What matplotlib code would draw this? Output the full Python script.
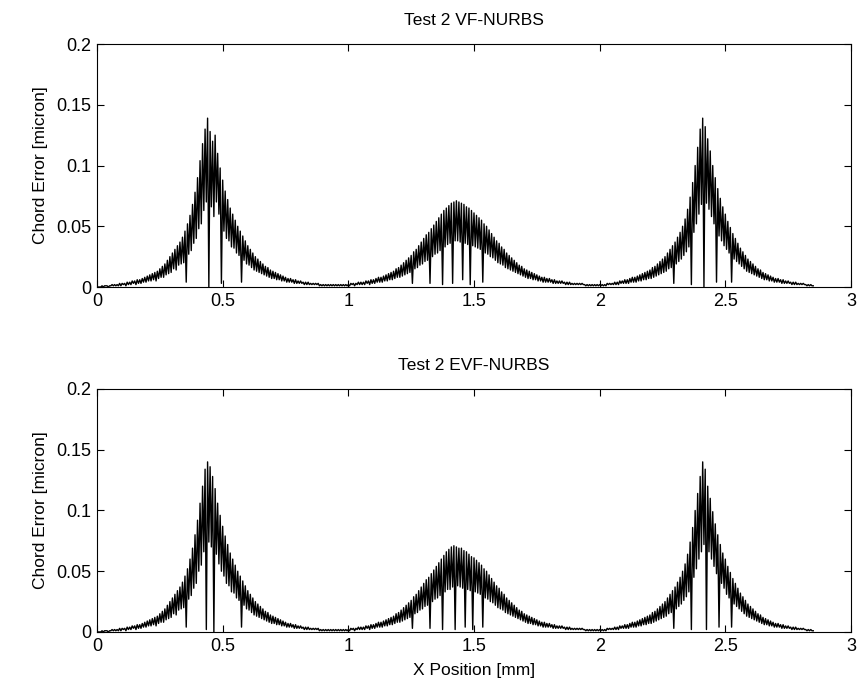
import numpy as np
import matplotlib
matplotlib.use("Agg")
import matplotlib.pyplot as plt

plt.rcParams['font.family'] = ['Liberation Sans', 'DejaVu Sans']

# chord error, micron
# crests every 0.01 mm from x = 0, troughs halfway between crests
vf_peaks = [
    0.000, 0.000, 0.001, 0.001, 0.001, 0.001, 0.002, 0.002, 0.002, 0.003,
    0.003, 0.003, 0.004, 0.004, 0.005, 0.005, 0.006, 0.006, 0.007, 0.008,
    0.009, 0.010, 0.011, 0.012, 0.013, 0.015, 0.017, 0.019, 0.022, 0.025,
    0.028, 0.031, 0.034, 0.037, 0.041, 0.046, 0.052, 0.059, 0.068, 0.078,
    0.090, 0.104, 0.118, 0.130, 0.139, 0.128, 0.120, 0.125, 0.110, 0.098,
    0.088, 0.079, 0.072, 0.065, 0.060, 0.055, 0.050, 0.046, 0.042, 0.038,
    0.034, 0.031, 0.028, 0.025, 0.023, 0.021, 0.019, 0.017, 0.016, 0.014,
    0.013, 0.012, 0.011, 0.010, 0.009, 0.008, 0.007, 0.007, 0.006, 0.006,
    0.005, 0.005, 0.004, 0.004, 0.004, 0.003, 0.003, 0.003, 0.003, 0.002,
    0.002, 0.002, 0.002, 0.002, 0.002, 0.002, 0.002, 0.002, 0.002, 0.002,
    0.002, 0.003, 0.003, 0.003, 0.004, 0.004, 0.004, 0.005, 0.005, 0.006,
    0.006, 0.007, 0.008, 0.008, 0.009, 0.010, 0.011, 0.012, 0.013, 0.015,
    0.016, 0.018, 0.020, 0.022, 0.024, 0.026, 0.029, 0.031, 0.034, 0.037,
    0.040, 0.043, 0.045, 0.048, 0.051, 0.054, 0.057, 0.060, 0.063, 0.065,
    0.067, 0.069, 0.070, 0.071, 0.070, 0.069, 0.068, 0.066, 0.065, 0.063,
    0.061, 0.059, 0.057, 0.055, 0.052, 0.050, 0.047, 0.044, 0.041, 0.038,
    0.036, 0.033, 0.031, 0.028, 0.026, 0.024, 0.022, 0.020, 0.018, 0.017,
    0.015, 0.014, 0.013, 0.012, 0.011, 0.010, 0.009, 0.008, 0.008, 0.007,
    0.007, 0.006, 0.006, 0.005, 0.005, 0.005, 0.004, 0.004, 0.004, 0.003,
    0.003, 0.003, 0.003, 0.003, 0.002, 0.002, 0.002, 0.002, 0.002, 0.002,
    0.002, 0.002, 0.002, 0.003, 0.003, 0.003, 0.004, 0.004, 0.005, 0.005,
    0.006, 0.006, 0.007, 0.008, 0.008, 0.009, 0.010, 0.011, 0.012, 0.013,
    0.014, 0.016, 0.017, 0.019, 0.021, 0.023, 0.025, 0.028, 0.031, 0.034,
    0.037, 0.041, 0.045, 0.050, 0.056, 0.064, 0.074, 0.086, 0.100, 0.115,
    0.130, 0.139, 0.132, 0.122, 0.112, 0.100, 0.090, 0.081, 0.073, 0.066,
    0.060, 0.054, 0.049, 0.044, 0.040, 0.036, 0.032, 0.029, 0.026, 0.023,
    0.021, 0.019, 0.017, 0.015, 0.014, 0.012, 0.011, 0.010, 0.009, 0.008,
    0.007, 0.007, 0.006, 0.006, 0.005, 0.005, 0.004, 0.004, 0.004, 0.003,
    0.003, 0.003, 0.002, 0.002, 0.002, 0.001,
]
vf_troughs = [
    0.000, 0.000, 0.000, 0.001, 0.000, 0.001, 0.001, 0.001, 0.001, 0.001,
    0.002, 0.001, 0.002, 0.002, 0.003, 0.002, 0.003, 0.003, 0.004, 0.004,
    0.005, 0.005, 0.006, 0.005, 0.007, 0.008, 0.008, 0.010, 0.011, 0.012,
    0.015, 0.014, 0.018, 0.019, 0.020, 0.004, 0.027, 0.030, 0.036, 0.040,
    0.048, 0.052, 0.063, 0.070, 0.000, 0.066, 0.058, 0.070, 0.060, 0.003,
    0.046, 0.040, 0.038, 0.033, 0.032, 0.028, 0.026, 0.004, 0.022, 0.019,
    0.018, 0.016, 0.014, 0.013, 0.012, 0.011, 0.010, 0.009, 0.008, 0.007,
    0.007, 0.006, 0.006, 0.005, 0.005, 0.004, 0.004, 0.004, 0.003, 0.003,
    0.003, 0.003, 0.002, 0.002, 0.002, 0.002, 0.002, 0.002, 0.001, 0.001,
    0.001, 0.001, 0.001, 0.001, 0.001, 0.001, 0.001, 0.001, 0.001, 0.001,
    0.001, 0.002, 0.001, 0.002, 0.002, 0.002, 0.002, 0.003, 0.002, 0.003,
    0.003, 0.004, 0.004, 0.004, 0.005, 0.005, 0.006, 0.006, 0.007, 0.008,
    0.008, 0.009, 0.010, 0.011, 0.012, 0.003, 0.015, 0.016, 0.018, 0.019,
    0.021, 0.022, 0.003, 0.025, 0.027, 0.028, 0.030, 0.002, 0.033, 0.035,
    0.036, 0.003, 0.038, 0.038, 0.037, 0.006, 0.036, 0.035, 0.002, 0.034,
    0.033, 0.032, 0.031, 0.004, 0.028, 0.027, 0.025, 0.024, 0.022, 0.020,
    0.019, 0.018, 0.016, 0.015, 0.014, 0.013, 0.012, 0.011, 0.010, 0.009,
    0.008, 0.007, 0.007, 0.006, 0.006, 0.005, 0.005, 0.004, 0.004, 0.004,
    0.004, 0.003, 0.003, 0.003, 0.003, 0.003, 0.002, 0.002, 0.002, 0.002,
    0.002, 0.002, 0.002, 0.002, 0.001, 0.001, 0.001, 0.001, 0.001, 0.001,
    0.001, 0.001, 0.001, 0.002, 0.002, 0.002, 0.002, 0.002, 0.003, 0.003,
    0.003, 0.003, 0.004, 0.004, 0.004, 0.005, 0.005, 0.006, 0.006, 0.007,
    0.007, 0.008, 0.009, 0.010, 0.011, 0.012, 0.013, 0.015, 0.016, 0.003,
    0.019, 0.021, 0.023, 0.026, 0.029, 0.033, 0.002, 0.045, 0.052, 0.060,
    0.068, 0.000, 0.069, 0.064, 0.058, 0.052, 0.004, 0.042, 0.038, 0.034,
    0.031, 0.028, 0.004, 0.023, 0.021, 0.019, 0.017, 0.015, 0.013, 0.012,
    0.011, 0.010, 0.009, 0.008, 0.007, 0.006, 0.006, 0.005, 0.005, 0.004,
    0.004, 0.004, 0.003, 0.003, 0.003, 0.003, 0.002, 0.002, 0.002, 0.002,
    0.002, 0.002, 0.001, 0.001, 0.001,
]

evf_peaks = [
    0.000, 0.000, 0.001, 0.001, 0.001, 0.001, 0.002, 0.002, 0.002, 0.003,
    0.003, 0.003, 0.004, 0.004, 0.005, 0.005, 0.006, 0.006, 0.007, 0.008,
    0.009, 0.010, 0.011, 0.012, 0.013, 0.015, 0.017, 0.019, 0.022, 0.025,
    0.028, 0.031, 0.034, 0.037, 0.041, 0.046, 0.052, 0.060, 0.069, 0.080,
    0.092, 0.106, 0.120, 0.134, 0.140, 0.136, 0.128, 0.118, 0.106, 0.096,
    0.087, 0.079, 0.072, 0.065, 0.060, 0.055, 0.050, 0.046, 0.042, 0.038,
    0.034, 0.031, 0.028, 0.025, 0.023, 0.021, 0.019, 0.017, 0.016, 0.014,
    0.013, 0.012, 0.011, 0.010, 0.009, 0.008, 0.007, 0.007, 0.006, 0.006,
    0.005, 0.005, 0.004, 0.004, 0.004, 0.003, 0.003, 0.003, 0.003, 0.002,
    0.002, 0.002, 0.002, 0.002, 0.002, 0.002, 0.002, 0.002, 0.002, 0.002,
    0.002, 0.003, 0.003, 0.003, 0.004, 0.004, 0.004, 0.005, 0.005, 0.006,
    0.006, 0.007, 0.008, 0.008, 0.009, 0.010, 0.011, 0.012, 0.013, 0.015,
    0.016, 0.018, 0.020, 0.022, 0.024, 0.026, 0.029, 0.031, 0.034, 0.037,
    0.040, 0.043, 0.045, 0.048, 0.051, 0.054, 0.057, 0.060, 0.063, 0.066,
    0.068, 0.070, 0.071, 0.070, 0.069, 0.069, 0.067, 0.066, 0.064, 0.062,
    0.061, 0.059, 0.057, 0.055, 0.052, 0.050, 0.047, 0.044, 0.041, 0.038,
    0.036, 0.033, 0.031, 0.028, 0.026, 0.024, 0.022, 0.020, 0.018, 0.017,
    0.015, 0.014, 0.013, 0.012, 0.011, 0.010, 0.009, 0.008, 0.008, 0.007,
    0.007, 0.006, 0.006, 0.005, 0.005, 0.005, 0.004, 0.004, 0.004, 0.003,
    0.003, 0.003, 0.003, 0.003, 0.002, 0.002, 0.002, 0.002, 0.002, 0.002,
    0.002, 0.002, 0.002, 0.003, 0.003, 0.003, 0.004, 0.004, 0.005, 0.005,
    0.006, 0.006, 0.007, 0.008, 0.008, 0.009, 0.010, 0.011, 0.012, 0.013,
    0.014, 0.016, 0.017, 0.019, 0.021, 0.023, 0.025, 0.028, 0.031, 0.034,
    0.037, 0.041, 0.045, 0.050, 0.056, 0.064, 0.074, 0.086, 0.100, 0.114,
    0.128, 0.140, 0.134, 0.120, 0.110, 0.099, 0.089, 0.080, 0.072, 0.065,
    0.060, 0.054, 0.049, 0.044, 0.040, 0.036, 0.032, 0.029, 0.026, 0.023,
    0.021, 0.019, 0.017, 0.015, 0.014, 0.012, 0.011, 0.010, 0.009, 0.008,
    0.007, 0.007, 0.006, 0.006, 0.005, 0.005, 0.004, 0.004, 0.004, 0.003,
    0.003, 0.003, 0.002, 0.002, 0.002, 0.001,
]
evf_troughs = [
    0.000, 0.000, 0.000, 0.001, 0.000, 0.001, 0.001, 0.001, 0.001, 0.001,
    0.002, 0.001, 0.002, 0.002, 0.003, 0.002, 0.003, 0.003, 0.004, 0.004,
    0.005, 0.005, 0.006, 0.005, 0.007, 0.008, 0.008, 0.010, 0.011, 0.012,
    0.015, 0.014, 0.018, 0.019, 0.020, 0.004, 0.027, 0.030, 0.036, 0.040,
    0.050, 0.055, 0.066, 0.002, 0.074, 0.070, 0.000, 0.064, 0.056, 0.050,
    0.046, 0.040, 0.038, 0.033, 0.032, 0.028, 0.026, 0.004, 0.022, 0.019,
    0.018, 0.016, 0.014, 0.013, 0.012, 0.011, 0.010, 0.009, 0.008, 0.007,
    0.007, 0.006, 0.006, 0.005, 0.005, 0.004, 0.004, 0.004, 0.003, 0.003,
    0.003, 0.003, 0.002, 0.002, 0.002, 0.002, 0.002, 0.002, 0.001, 0.001,
    0.001, 0.001, 0.001, 0.001, 0.001, 0.001, 0.001, 0.001, 0.001, 0.001,
    0.001, 0.002, 0.001, 0.002, 0.002, 0.002, 0.002, 0.003, 0.002, 0.003,
    0.003, 0.004, 0.004, 0.004, 0.005, 0.005, 0.006, 0.006, 0.007, 0.008,
    0.008, 0.009, 0.010, 0.011, 0.012, 0.003, 0.015, 0.016, 0.018, 0.019,
    0.021, 0.022, 0.003, 0.025, 0.027, 0.028, 0.030, 0.002, 0.033, 0.035,
    0.035, 0.037, 0.002, 0.038, 0.037, 0.036, 0.004, 0.035, 0.034, 0.002,
    0.033, 0.032, 0.031, 0.004, 0.028, 0.027, 0.025, 0.024, 0.022, 0.020,
    0.019, 0.018, 0.016, 0.015, 0.014, 0.013, 0.012, 0.011, 0.010, 0.009,
    0.008, 0.007, 0.007, 0.006, 0.006, 0.005, 0.005, 0.004, 0.004, 0.004,
    0.004, 0.003, 0.003, 0.003, 0.003, 0.003, 0.002, 0.002, 0.002, 0.002,
    0.002, 0.002, 0.002, 0.002, 0.001, 0.001, 0.001, 0.001, 0.001, 0.001,
    0.001, 0.001, 0.001, 0.002, 0.002, 0.002, 0.002, 0.002, 0.003, 0.003,
    0.003, 0.003, 0.004, 0.004, 0.004, 0.005, 0.005, 0.006, 0.006, 0.007,
    0.007, 0.008, 0.009, 0.010, 0.011, 0.012, 0.013, 0.015, 0.016, 0.003,
    0.019, 0.021, 0.023, 0.026, 0.029, 0.033, 0.002, 0.045, 0.052, 0.060,
    0.066, 0.072, 0.002, 0.066, 0.060, 0.054, 0.048, 0.004, 0.040, 0.036,
    0.031, 0.028, 0.004, 0.023, 0.021, 0.019, 0.017, 0.015, 0.013, 0.012,
    0.011, 0.010, 0.009, 0.008, 0.007, 0.006, 0.006, 0.005, 0.005, 0.004,
    0.004, 0.004, 0.003, 0.003, 0.003, 0.003, 0.002, 0.002, 0.002, 0.002,
    0.002, 0.002, 0.001, 0.001, 0.001,
]

x_step = 0.01  # mm between crests
titles = ["Test 2 VF-NURBS", "Test 2 EVF-NURBS"]
xticks = [0, 0.5, 1, 1.5, 2, 2.5, 3]
xticklabels = ["0", "0.5", "1", "1.5", "2", "2.5", "3"]
yticks = [0, 0.05, 0.1, 0.15, 0.2]
yticklabels = ["0", "0.05", "0.1", "0.15", "0.2"]


def zigzag(peaks, troughs):
    xp = np.arange(len(peaks)) * x_step
    xt = np.arange(len(troughs)) * x_step + x_step / 2
    x = np.empty(len(xp) + len(xt))
    y = np.empty_like(x)
    x[0::2], y[0::2] = xp, peaks
    x[1::2], y[1::2] = xt, troughs
    return x, y


fig = plt.figure(figsize=(8.6, 6.98), dpi=100)
ax_top = fig.add_axes([0.1128, 0.5888, 0.8767, 0.3481])
ax_bot = fig.add_axes([0.1128, 0.0946, 0.8767, 0.3481])

for ax, title, (pk, tr) in zip([ax_top, ax_bot], titles,
                               [(vf_peaks, vf_troughs), (evf_peaks, evf_troughs)]):
    x, y = zigzag(pk, tr)
    ax.plot(x, y, color='black', linewidth=1.0)
    ax.set_xlim(0, 3)
    ax.set_ylim(0, 0.2)
    ax.set_xticks(xticks)
    ax.set_xticklabels(xticklabels)
    ax.set_yticks(yticks)
    ax.set_yticklabels(yticklabels)
    ax.tick_params(direction='in', length=5, width=0.8, labelsize=13,
                   top=True, right=True, pad=4)
    for s in ax.spines.values():
        s.set_linewidth(0.8)
    ax.set_title(title, fontsize=12.5, pad=14)
    ax.set_ylabel("Chord Error [micron]", fontsize=12.5, labelpad=6)

ax_bot.set_xlabel("X Position [mm]", fontsize=12.5, labelpad=6)

fig.savefig("out.png", dpi=100)
